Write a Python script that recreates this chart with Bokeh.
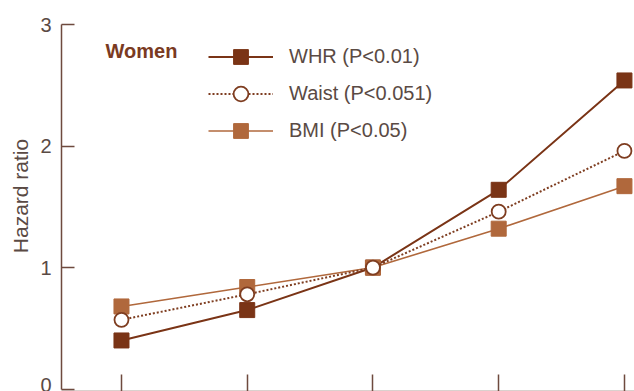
from bokeh.plotting import figure
from bokeh.models import Range1d, LinearAxis, Legend, LegendItem, Label, FixedTicker
from bokeh.embed import file_html
from bokeh.resources import INLINE

# Data
quintiles = [1, 2, 3, 4, 5]
whr = [0.40, 0.65, 1.0, 1.64, 2.54]
waist = [0.57, 0.78, 1.0, 1.46, 1.96]
bmi = [0.68, 0.84, 1.0, 1.32, 1.67]
names = ["WHR (P<0.01)", "Waist (P<0.051)", "BMI (P<0.05)"]
y_ticks = [0, 1, 2, 3]

c_whr = "#7a3416"
c_waist = "#7e3d20"
c_bmi = "#b0683c"
c_axis = "#6e4a3e"
c_text = "#5a4a44"
FONT = "Liberation Sans"

p = figure(width=634, height=391, output_backend="svg", toolbar_location=None,
           x_axis_location=None, y_axis_location=None,
           x_range=Range1d(0.523, 5.08), y_range=Range1d(-0.02, 3.198),
           min_border_left=61, min_border_right=0, min_border_top=0, min_border_bottom=0)
p.outline_line_color = None
p.grid.visible = False
p.background_fill_color = "white"
p.border_fill_color = "white"

yax = LinearAxis(ticker=FixedTicker(ticks=y_ticks), bounds=(0, 3))
yax.axis_line_color = c_axis
yax.axis_line_width = 1.5
yax.major_tick_line_color = c_axis
yax.major_tick_line_width = 1.5
yax.major_tick_in = 13
yax.major_tick_out = 0
yax.minor_tick_line_color = None
yax.major_label_text_font = FONT
yax.major_label_text_font_size = "20px"
yax.major_label_text_color = c_text
yax.major_label_standoff = 10
yax.axis_label = "Hazard ratio"
yax.axis_label_text_font = FONT
yax.axis_label_text_font_size = "21px"
yax.axis_label_text_font_style = "normal"
yax.axis_label_text_color = c_text
yax.axis_label_standoff = 5
p.add_layout(yax, "left")

xax = LinearAxis(ticker=FixedTicker(ticks=quintiles),
                 major_label_overrides={q: "" for q in quintiles})
xax.axis_line_color = c_axis
xax.axis_line_width = 1.5
xax.major_tick_line_color = c_axis
xax.major_tick_line_width = 1.5
xax.major_tick_in = 17
xax.major_tick_out = 0
xax.minor_tick_line_color = None
xax.major_label_text_font_size = "1px"
xax.major_label_standoff = 0
p.add_layout(xax, "below")

l_whr = p.line(quintiles, whr, line_color=c_whr, line_width=2)
s_whr = p.scatter(quintiles, whr, marker="square", size=15, fill_color=c_whr, line_color=c_whr)

l_bmi = p.line(quintiles, bmi, line_color=c_bmi, line_width=1.6)
s_bmi = p.scatter(quintiles, bmi, marker="square", size=15, fill_color=c_bmi, line_color=c_bmi)

l_wst = p.line(quintiles, waist, line_color=c_waist, line_width=2, line_dash="2 2")
s_wst = p.scatter(quintiles, waist, marker="circle", size=14, fill_color="white",
                  line_color=c_waist, line_width=1.8)

legend = Legend(items=[
    LegendItem(label=names[0], renderers=[l_whr, s_whr]),
    LegendItem(label=names[1], renderers=[l_wst, s_wst]),
    LegendItem(label=names[2], renderers=[l_bmi, s_bmi]),
], location=(147, 242), orientation="vertical")
legend.glyph_width = 65
legend.glyph_height = 37
legend.label_height = 37
legend.spacing = 0
legend.padding = 0
legend.margin = 0
legend.label_standoff = 16
legend.label_text_font = FONT
legend.label_text_font_size = "20px"
legend.label_text_color = c_text
legend.border_line_color = None
legend.background_fill_alpha = 0
p.add_layout(legend)

p.add_layout(Label(x=0.873, y=2.78, text="Women", text_font=FONT, text_font_size="20px",
                   text_font_style="bold", text_color="#7a3a22", text_baseline="middle",
                   text_align="left"))

open("out.html", "w").write(file_html(p, INLINE))
